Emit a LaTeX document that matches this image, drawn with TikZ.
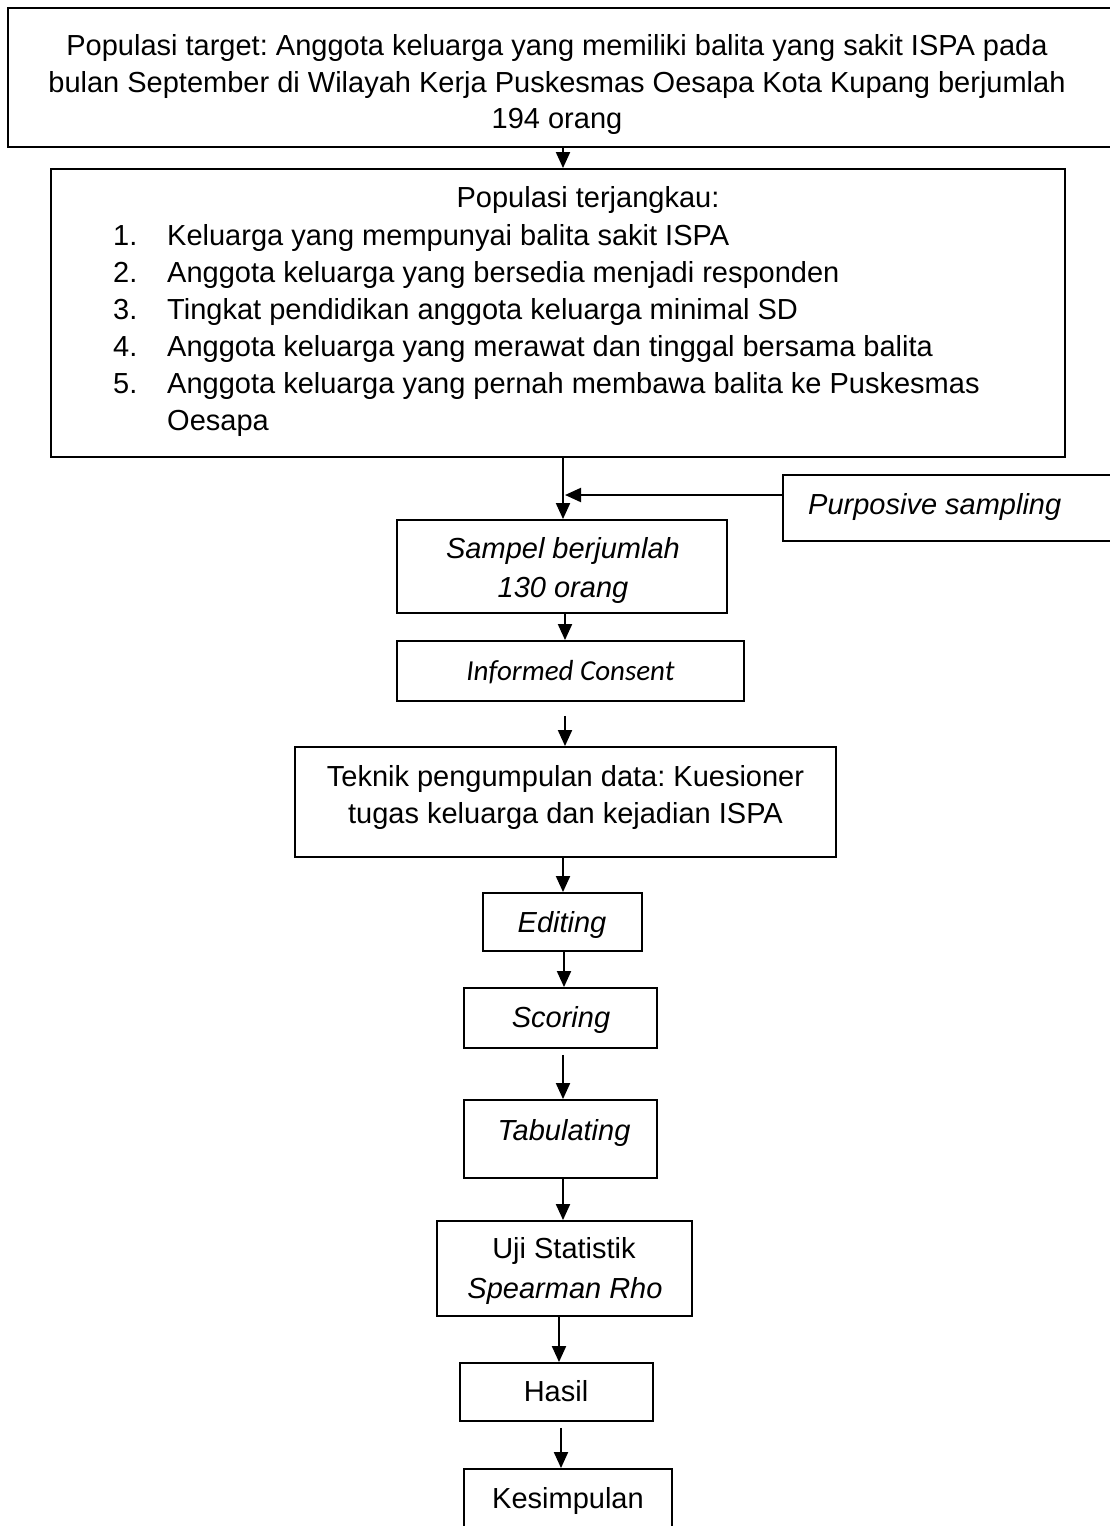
\documentclass[tikz,border=0pt]{standalone}
\usepackage{fontspec}
\setmainfont{Liberation Sans}
\newfontfamily\calibri{Carlito}
\usetikzlibrary{arrows.meta}
\tikzset{
  box/.style={draw=black,line width=1.9pt,inner sep=0pt},
  txt/.style={inner sep=0pt,anchor=base,font=\fontsize{29}{37}\selectfont},
  arr/.style={line width=2pt,-{Triangle[length=16pt,width=14pt]}}
}
\begin{document}
\frenchspacing
\begin{tikzpicture}[x=1pt,y=-1pt]
\useasboundingbox (0,0) rectangle (1109,1526);
% boxes
\node[box,minimum width=1106pt,minimum height=139pt] (top) at (561,77.5) {};
\node[box,minimum width=1014pt,minimum height=288pt] (pop) at (558,313) {};
\node[box,minimum width=332pt,minimum height=66pt] (purp) at (949,508) {};
\node[box,minimum width=330pt,minimum height=93pt] (samp) at (562,566.5) {};
\node[box,minimum width=347pt,minimum height=60pt] (inf) at (570.5,671) {};
\node[box,minimum width=541pt,minimum height=110pt] (tek) at (565.5,802) {};
\node[box,minimum width=159pt,minimum height=58pt] (edit) at (562.5,922) {};
\node[box,minimum width=193pt,minimum height=60pt] (scor) at (560.5,1018) {};
\node[box,minimum width=193pt,minimum height=78pt] (tab) at (560.5,1139) {};
\node[box,minimum width=255pt,minimum height=95pt] (uji) at (564.5,1268.5) {};
\node[box,minimum width=193pt,minimum height=58pt] (has) at (556.5,1392) {};
\node[box,minimum width=208pt,minimum height=110pt] (kes) at (568,1524) {};
% texts
\node[txt] (t1) at (557,55) {Populasi target: Anggota keluarga yang memiliki balita yang sakit ISPA pada};
\node[txt] (t2) at (557,92) {bulan September di Wilayah Kerja Puskesmas Oesapa Kota Kupang berjumlah};
\node[txt] (t3) at (557,128) {194 orang};
\node[txt] (pt) at (588,207) {Populasi terjangkau:};
\node[txt,anchor=base west] (n1) at (113,245) {1.};
\node[txt,anchor=base west] (n2) at (113,282) {2.};
\node[txt,anchor=base west] (n3) at (113,319) {3.};
\node[txt,anchor=base west] (n4) at (113,356) {4.};
\node[txt,anchor=base west] (n5) at (113,393) {5.};
\node[txt,anchor=base west] (l1) at (167,245) {Keluarga yang mempunyai balita sakit ISPA};
\node[txt,anchor=base west] (l2) at (167,282) {Anggota keluarga yang bersedia menjadi responden};
\node[txt,anchor=base west] (l3) at (167,319) {Tingkat pendidikan anggota keluarga minimal SD};
\node[txt,anchor=base west] (l4) at (167,356) {Anggota keluarga yang merawat dan tinggal bersama balita};
\node[txt,anchor=base west] (l5) at (167,393) {Anggota keluarga yang pernah membawa balita ke Puskesmas};
\node[txt,anchor=base west] (l6) at (167,430) {Oesapa};
\node[txt,anchor=base west] (ps) at (808,514) {\itshape Purposive sampling};
\node[txt] (s1) at (563,558) {\itshape Sampel berjumlah};
\node[txt] (s2) at (563,597) {\itshape 130 orang};
\node[txt] (ic) at (570.5,680) {\calibri\itshape Informed Consent};
\node[txt] (k1) at (565.5,786) {Teknik pengumpulan data: Kuesioner};
\node[txt] (k2) at (565.5,823) {tugas keluarga dan kejadian ISPA};
\node[txt] (ed) at (562,932) {\itshape Editing};
\node[txt] (sc) at (561,1027) {\itshape Scoring};
\node[txt] (tb) at (564,1140) {\itshape Tabulating};
\node[txt] (u1) at (564,1258) {Uji Statistik};
\node[txt] (u2) at (565,1298) {\itshape Spearman Rho};
\node[txt] (hs) at (556,1401) {Hasil};
\node[txt] (ks) at (568,1508) {Kesimpulan};
% connectors
\coordinate (j) at (563,495);
\draw[arr] (563,0 |- top.south) -- (563,0 |- pop.north);
\draw[arr] (563,0 |- pop.south) -- (563,0 |- samp.north);
\draw[arr] (purp.west |- j) -- ([xshift=2pt]j);
\draw[arr] (565,0 |- samp.south) -- (565,0 |- inf.north);
\draw[arr,shorten <=14pt] (565,0 |- inf.south) -- (565,0 |- tek.north);
\draw[arr] (563,0 |- tek.south) -- (563,0 |- edit.north);
\draw[arr] (564,0 |- edit.south) -- (564,0 |- scor.north);
\draw[arr,shorten <=6pt] (563,0 |- scor.south) -- (563,0 |- tab.north);
\draw[arr] (563,0 |- tab.south) -- (563,0 |- uji.north);
\draw[arr] (559,0 |- uji.south) -- (559,0 |- has.north);
\draw[arr,shorten <=6pt] (561,0 |- has.south) -- (561,0 |- kes.north);
\end{tikzpicture}
\end{document}
